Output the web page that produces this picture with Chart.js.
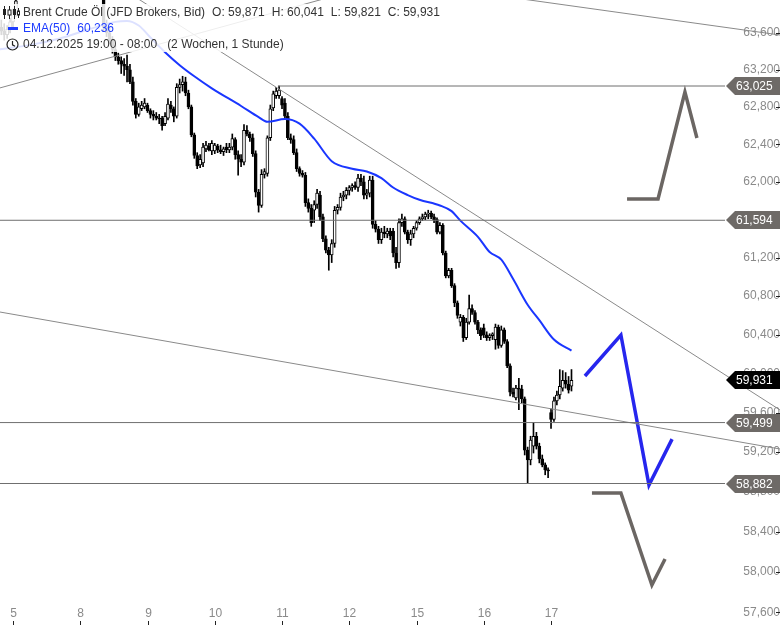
<!DOCTYPE html>
<html>
<head>
<meta charset="utf-8">
<script src="https://cdn.jsdelivr.net/npm/chart.js@4.4.1/dist/chart.umd.min.js"></script>
<style>
html, body { margin: 0; padding: 0; background: #fff; }
#wrap { position: relative; width: 780px; height: 625px; overflow: hidden; font-family: "Liberation Sans", Arial, sans-serif; }
#legend { position: absolute; left: 0; top: 4px; font-size: 12px; color: #333; }
.row { position: relative; height: 16px; line-height: 16px; padding-left: 23px; white-space: nowrap; background: rgba(255,255,255,0.85); box-sizing: border-box; }
.r1 { width: fit-content; padding-right: 4px; }
.r2, .r3 { width: 290px; }
.r2 { color: #1e3cff; }
.g { margin-left: 7px; }
.gap { margin-left: 10px; }
.ic { position: absolute; left: 2px; top: 2px; }
.dash { position: absolute; left: 8px; top: 7px; width: 10px; height: 3px; background: #1e3cff; }
</style>
</head>
<body>
<div id="wrap">
  <canvas id="chart" width="780" height="625"></canvas>
  <div id="legend">
    <div class="row r1">
      <svg class="ic" width="18" height="13" viewBox="0 0 18 13">
        <path d="M2.5 0v13M7.5 0v13M12.5 0v13M16.5 2v10" stroke="#222" stroke-width="1"/>
        <rect x="1" y="3" width="3" height="6" fill="#222"/>
        <rect x="6" y="4" width="3" height="5" fill="#fff" stroke="#222" stroke-width="1"/>
        <rect x="11" y="3" width="3" height="6" fill="#222"/>
        <rect x="15.5" y="5" width="2" height="4" fill="#fff" stroke="#222" stroke-width="1"/>
      </svg>
      Brent Crude Öl (JFD Brokers, Bid)<span class="g">O: 59,871</span><span class="g">H: 60,041</span><span class="g">L: 59,821</span><span class="g">C: 59,931</span>
    </div>
    <div class="row r2"><span class="dash"></span>EMA(50)<span class="g">60,236</span></div>
    <div class="row r3">
      <svg class="ic" width="16" height="13" viewBox="0 0 16 13" style="left:6px;top:2px">
        <circle cx="6.5" cy="6.5" r="5.5" fill="none" stroke="#222" stroke-width="1.2"/>
        <path d="M6.5 3v3.8l2.5 1.5" fill="none" stroke="#222" stroke-width="1.2"/>
      </svg>
      04.12.2025 19:00 - 08:00<span class="gap">(2 Wochen, 1 Stunde)</span>
    </div>
  </div>
</div>
<script>
// Brent hourly candles, 04.12.2025 19:00 - 17.12.2025 08:00 (index = hour bar)
const opens = [
  63.62, 63.66, 63.62, 63.58, 63.64, 63.72, 63.82, 63.98, 64.04, 64.10,
  64.06, 64.12, 64.17, 64.14, 64.20, 64.22, 64.18, 64.15, 64.19, 64.24,
  64.27, 64.23, 64.20, 64.25, 64.22, 64.16, 64.12, 64.18, 64.10, 64.08,
  64.04, 64.09, 64.06, 64.03, 64.07, 64.04, 64.02, 63.66, 63.60, 63.52,
  63.42, 63.34, 63.30, 63.26, 63.24, 63.20, 63.07, 62.86, 62.72, 62.78,
  62.80, 62.82, 62.76, 62.72, 62.70, 62.68, 62.68, 62.62, 62.68, 62.82,
  62.78, 62.70, 63.01, 63.04, 63.07, 62.95, 62.80, 62.50, 62.28, 62.18,
  62.20, 62.35, 62.38, 62.33, 62.33, 62.38, 62.34, 62.32, 62.37, 62.34,
  62.37, 62.45, 62.29, 62.24, 62.21, 62.55, 62.51, 62.47, 62.30, 61.89,
  61.75, 62.08, 62.09, 62.47, 62.79, 62.92, 62.92, 62.89, 62.84, 62.70,
  62.47, 62.45, 62.31, 62.14, 62.09, 62.07, 61.78, 61.72, 61.70, 61.76,
  61.86, 61.63, 61.40, 61.28, 61.23, 61.35, 61.70, 61.73, 61.84, 61.86,
  61.91, 61.94, 61.96, 61.94, 62.04, 62.00, 61.86, 61.88, 62.02, 61.55,
  61.50, 61.39, 61.47, 61.45, 61.48, 61.48, 61.25, 61.15, 61.57, 61.61,
  61.47, 61.39, 61.45, 61.51, 61.57, 61.61, 61.63, 61.66, 61.67, 61.63,
  61.60, 61.47, 61.54, 61.25, 61.01, 61.07, 60.91, 60.73, 60.53, 60.58,
  60.37, 60.53, 60.67, 60.63, 60.53, 60.45, 60.47, 60.40, 60.37, 60.39,
  60.35, 60.48, 60.29, 60.45, 60.33, 60.08, 59.81, 59.75, 59.85, 59.84,
  59.74, 59.22, 59.12, 59.26, 59.36, 59.26, 59.13, 59.07, 59.02, 59.60,
  59.53, 59.72, 59.78, 59.85, 59.93, 59.89, 59.871
];
const highs = [
  63.72, 63.74, 63.70, 63.68, 63.76, 63.86, 63.98, 64.08, 64.12, 64.16,
  64.14, 64.20, 64.24, 64.22, 64.28, 64.30, 64.25, 64.22, 64.26, 64.32,
  64.34, 64.30, 64.27, 64.30, 64.28, 64.22, 64.20, 64.24, 64.18, 64.14,
  64.12, 64.15, 64.12, 64.10, 64.12, 64.09, 64.08, 63.74, 63.66, 63.56,
  63.46, 63.38, 63.34, 63.32, 63.36, 63.26, 63.12, 62.89, 62.84, 62.86,
  62.89, 62.84, 62.78, 62.76, 62.74, 62.72, 62.70, 62.74, 62.89, 62.86,
  62.80, 63.05, 63.10, 63.13, 63.12, 62.98, 62.82, 62.52, 62.31, 62.29,
  62.41, 62.43, 62.41, 62.44, 62.41, 62.40, 62.39, 62.37, 62.41, 62.41,
  62.51, 62.47, 62.33, 62.29, 62.61, 62.60, 62.53, 62.51, 62.33, 61.92,
  62.13, 62.14, 62.49, 62.82, 62.97, 63.01, 63.025, 62.91, 62.89, 62.74,
  62.51, 62.49, 62.35, 62.16, 62.12, 62.10, 61.82, 61.76, 61.80, 61.92,
  61.90, 61.66, 61.43, 61.31, 61.39, 61.74, 61.76, 61.88, 61.90, 61.94,
  61.96, 61.98, 62.00, 62.08, 62.08, 62.06, 61.92, 62.06, 62.06, 61.59,
  61.53, 61.51, 61.53, 61.51, 61.51, 61.51, 61.31, 61.61, 61.66, 61.63,
  61.49, 61.49, 61.53, 61.59, 61.63, 61.66, 61.68, 61.70, 61.69, 61.66,
  61.62, 61.57, 61.56, 61.27, 61.09, 61.09, 60.93, 60.75, 60.61, 60.60,
  60.57, 60.81, 60.71, 60.65, 60.55, 60.47, 60.51, 60.43, 60.41, 60.42,
  60.51, 60.50, 60.49, 60.47, 60.35, 60.10, 59.85, 59.88, 59.95, 59.88,
  59.76, 59.25, 59.36, 59.50, 59.40, 59.29, 59.17, 59.09, 59.04, 59.64,
  59.76, 59.82, 60.04, 60.03, 60.01, 59.97, 60.041
];
const lows = [
  63.55, 63.58, 63.52, 63.54, 63.60, 63.66, 63.78, 63.97, 64.00, 64.03,
  64.01, 64.08, 64.10, 64.08, 64.14, 64.16, 64.10, 64.08, 64.12, 64.18,
  64.20, 64.16, 64.14, 64.18, 64.12, 64.08, 64.06, 64.10, 64.02, 64.00,
  63.99, 64.02, 64.00, 63.98, 64.00, 63.98, 63.62, 63.56, 63.48, 63.38,
  63.30, 63.26, 63.16, 63.14, 63.07, 63.05, 62.82, 62.68, 62.70, 62.76,
  62.78, 62.74, 62.68, 62.66, 62.66, 62.62, 62.55, 62.60, 62.66, 62.74,
  62.64, 62.68, 62.95, 62.97, 62.92, 62.78, 62.48, 62.25, 62.14, 62.15,
  62.16, 62.32, 62.33, 62.29, 62.30, 62.31, 62.30, 62.28, 62.31, 62.31,
  62.34, 62.24, 62.07, 62.16, 62.18, 62.49, 62.43, 62.27, 61.84, 61.68,
  61.73, 62.04, 62.06, 62.44, 62.76, 62.89, 62.89, 62.78, 62.68, 62.45,
  62.41, 62.29, 62.11, 62.06, 62.05, 61.74, 61.68, 61.53, 61.57, 61.72,
  61.59, 61.37, 61.25, 61.07, 61.15, 61.31, 61.66, 61.70, 61.80, 61.82,
  61.86, 61.90, 61.92, 61.90, 61.96, 61.82, 61.82, 61.84, 61.51, 61.47,
  61.35, 61.35, 61.41, 61.41, 61.39, 61.21, 61.09, 61.10, 61.53, 61.45,
  61.35, 61.33, 61.41, 61.49, 61.55, 61.59, 61.60, 61.61, 61.61, 61.57,
  61.45, 61.45, 61.23, 60.99, 60.99, 60.89, 60.69, 60.57, 60.49, 60.33,
  60.35, 60.51, 60.61, 60.51, 60.41, 60.35, 60.37, 60.34, 60.34, 60.35,
  60.25, 60.26, 60.27, 60.31, 60.06, 59.77, 59.76, 59.73, 59.63, 59.70,
  59.17, 58.882, 59.07, 59.19, 59.23, 59.09, 59.05, 58.97, 58.94, 59.44,
  59.51, 59.68, 59.74, 59.82, 59.85, 59.80, 59.821
];
const closes = [
  63.66, 63.62, 63.58, 63.64, 63.72, 63.82, 63.95, 64.04, 64.10, 64.06,
  64.12, 64.17, 64.14, 64.20, 64.22, 64.18, 64.15, 64.19, 64.24, 64.27,
  64.23, 64.20, 64.25, 64.22, 64.16, 64.12, 64.18, 64.14, 64.08, 64.04,
  64.09, 64.06, 64.03, 64.07, 64.04, 64.02, 63.66, 63.60, 63.52, 63.42,
  63.34, 63.30, 63.26, 63.24, 63.20, 63.07, 62.86, 62.72, 62.80, 62.82,
  62.84, 62.76, 62.72, 62.70, 62.68, 62.67, 62.60, 62.70, 62.83, 62.78,
  62.70, 63.01, 63.04, 63.07, 62.95, 62.80, 62.50, 62.28, 62.17, 62.24,
  62.37, 62.39, 62.34, 62.41, 62.39, 62.34, 62.32, 62.35, 62.34, 62.37,
  62.46, 62.29, 62.24, 62.21, 62.55, 62.51, 62.47, 62.30, 61.89, 61.75,
  62.08, 62.11, 62.47, 62.78, 62.94, 62.97, 62.98, 62.82, 62.70, 62.47,
  62.45, 62.31, 62.14, 62.09, 62.07, 61.78, 61.72, 61.57, 61.76, 61.88,
  61.63, 61.40, 61.28, 61.23, 61.35, 61.70, 61.73, 61.84, 61.86, 61.91,
  61.94, 61.96, 61.94, 62.04, 62.00, 61.86, 61.88, 62.02, 61.55, 61.50,
  61.39, 61.47, 61.45, 61.48, 61.43, 61.25, 61.15, 61.57, 61.61, 61.47,
  61.39, 61.45, 61.51, 61.57, 61.61, 61.63, 61.66, 61.67, 61.63, 61.60,
  61.47, 61.54, 61.25, 61.01, 61.07, 60.91, 60.73, 60.60, 60.58, 60.37,
  60.53, 60.67, 60.63, 60.53, 60.45, 60.39, 60.40, 60.37, 60.39, 60.41,
  60.48, 60.29, 60.45, 60.33, 60.08, 59.81, 59.79, 59.85, 59.84, 59.74,
  59.22, 59.12, 59.32, 59.36, 59.26, 59.13, 59.07, 59.02, 59.01, 59.53,
  59.72, 59.78, 59.87, 59.93, 59.89, 59.83, 59.931
];

// EMA(50) at some bars
const emaIdx  = [0, 11, 21, 31, 40, 44, 48, 52, 57, 62, 67, 73, 83, 89, 92, 98, 103, 108, 114, 121, 126, 131, 135, 140, 144, 151, 155, 158, 164, 168, 172, 176, 181, 185, 190, 196];
const emaVals = [63.42, 63.47, 63.54, 63.64, 63.72, 63.73, 63.68, 63.55, 63.39, 63.25, 63.13, 63.00, 62.81, 62.69, 62.64, 62.67, 62.62, 62.46, 62.22, 62.14, 62.11, 62.04, 61.94, 61.86, 61.81, 61.75, 61.69, 61.59, 61.42, 61.26, 61.18, 60.98, 60.71, 60.55, 60.35, 60.236];

// day labels on the time axis (bar index of the first hour)
const dayTickIdx = [5, 28, 51, 74, 97, 120, 143, 166, 189];
const dayTickLabels = ['5', '8', '9', '10', '11', '12', '15', '16', '17'];

const yTickValues = [57.6, 58.0, 58.4, 58.8, 59.2, 59.6, 60.0, 60.4, 60.8, 61.2, 61.6, 62.0, 62.4, 62.8, 63.2, 63.6, 64.0];

// drawn objects, in (bar index, price)
const levelValues = [63.025, 61.594, 59.499, 58.882];
const levelStart  = [95.6, -1, -1, -1];
const trendA = [{x: -1, y: 62.991}, {x: 120, y: 64.048}];
const trendB = [{x: 170, y: 64.011}, {x: 268, y: 63.574}];
const trendC = [{x: 40, y: 64.132}, {x: 268, y: 59.614}];
const trendD = [{x: -1, y: 60.643}, {x: 268, y: 59.227}];
const projUp   = [{x: 215.0, y: 61.818}, {x: 225.6, y: 61.818}, {x: 234.8, y: 62.960}, {x: 238.9, y: 62.467}];
const projMid  = [{x: 200.6, y: 59.975}, {x: 212.9, y: 60.397}, {x: 222.5, y: 58.867}, {x: 230.4, y: 59.331}];
const projDown = [{x: 203.0, y: 58.786}, {x: 212.9, y: 58.786}, {x: 223.5, y: 57.868}, {x: 228.0, y: 58.127}];

const tagValues = [63.025, 61.594, 59.931, 59.499, 58.882];
const lastClose = 59.931;

const fmt = v => v.toFixed(3).replace('.', ',');

Chart.defaults.font.family = '"Liberation Sans", Arial, sans-serif';

const wicks = opens.map((o, i) => ({x: i, y: [lows[i], highs[i]]}));
const bodies = opens.map((o, i) => ({x: i, y: [o, closes[i]]}));
const bodyColors = opens.map((o, i) => closes[i] >= o ? '#ffffff' : '#000000');

const thinLine = (data, extra) => Object.assign({
    type: 'line', data: data, borderColor: '#8a8a8a', borderWidth: 1,
    pointRadius: 0, tension: 0, clip: false, order: 0
}, extra || {});

const datasets = [];
levelValues.forEach((v, k) => {
    datasets.push(thinLine([{x: levelStart[k], y: v}, {x: 248.5, y: v}], {borderColor: '#6f6f6f', clip: true}));
});
datasets.push(thinLine(trendA));
datasets.push(thinLine(trendB));
datasets.push(thinLine(trendC));
datasets.push(thinLine(trendD));
datasets.push({
    type: 'line', data: emaIdx.map((v, k) => ({x: v, y: emaVals[k]})),
    borderColor: '#1a36ff', borderWidth: 2, pointRadius: 0,
    cubicInterpolationMode: 'monotone', order: 0
});
datasets.push(thinLine(projUp, {borderColor: '#6b6663', borderWidth: 3.5, borderJoinStyle: 'miter'}));
datasets.push(thinLine(projDown, {borderColor: '#6b6663', borderWidth: 3.5, borderJoinStyle: 'miter'}));
datasets.push(thinLine(projMid, {borderColor: '#2626ee', borderWidth: 3.5, borderJoinStyle: 'miter'}));
datasets.push({
    type: 'bar', data: bodies, backgroundColor: bodyColors, borderColor: '#000',
    borderWidth: 1, borderSkipped: false, barThickness: 3, grouped: false, order: 1
});
datasets.push({
    type: 'bar', data: wicks, backgroundColor: '#000', borderWidth: 0,
    barThickness: 1, grouped: false, order: 2
});

// price tags, small tick marks and day labels
const overlayPlugin = {
    id: 'overlay',
    afterDraw(chart) {
        const ctx = chart.ctx;
        const xs = chart.scales.x, ys = chart.scales.y;
        const right = chart.chartArea.right;
        ctx.save();

        ctx.strokeStyle = '#222';
        ctx.lineWidth = 1;
        ys.ticks.forEach(t => {
            const py = Math.round(ys.getPixelForValue(t.value)) + 0.5;
            ctx.beginPath(); ctx.moveTo(776, py); ctx.lineTo(780, py); ctx.stroke();
        });

        ctx.font = '12px "Liberation Sans", Arial, sans-serif';
        ctx.fillStyle = '#8a8a8a';
        ctx.textAlign = 'center';
        ctx.textBaseline = 'middle';
        dayTickIdx.forEach((v, k) => {
            const px = Math.round(xs.getPixelForValue(v)) + 0.5;
            ctx.fillText(dayTickLabels[k], px, 614);
            ctx.beginPath(); ctx.moveTo(px, 621); ctx.lineTo(px, 625); ctx.stroke();
        });

        ctx.textAlign = 'left';
        tagValues.forEach(v => {
            const py = Math.round(ys.getPixelForValue(v));
            ctx.fillStyle = v === lastClose ? '#000000' : '#6e6a67';
            ctx.beginPath();
            ctx.moveTo(right + 1, py);
            ctx.lineTo(right + 10, py - 9);
            ctx.lineTo(780, py - 9);
            ctx.lineTo(780, py + 9);
            ctx.lineTo(right + 10, py + 9);
            ctx.closePath();
            ctx.fill();
            ctx.fillStyle = '#ffffff';
            ctx.fillText(fmt(v), right + 11, py + 1);
        });
        ctx.restore();
    }
};

new Chart(document.getElementById('chart'), {
    type: 'bar',
    data: { datasets: datasets },
    options: {
        responsive: false,
        animation: false,
        devicePixelRatio: 1,
        layout: { padding: 0 },
        plugins: { legend: { display: false }, tooltip: { enabled: false } },
        scales: {
            x: {
                type: 'linear', display: false, offset: false,
                min: 0.554, max: 248.5
            },
            y: {
                type: 'logarithmic', position: 'right',
                min: 57.474, max: 63.959,
                grid: { display: false, drawTicks: false },
                border: { display: false },
                afterFit(s) { s.width = 55; s.paddingTop = 0; s.paddingBottom = 0; },
                afterBuildTicks(s) {
                    s.ticks = yTickValues.filter(v => v >= s.min && v <= s.max).map(v => ({value: v}));
                },
                ticks: {
                    padding: 11, crossAlign: 'far', color: '#8a8a8a',
                    font: { size: 12 },
                    callback: v => fmt(v)
                }
            }
        }
    },
    plugins: [overlayPlugin]
});
</script>
</body>
</html>
